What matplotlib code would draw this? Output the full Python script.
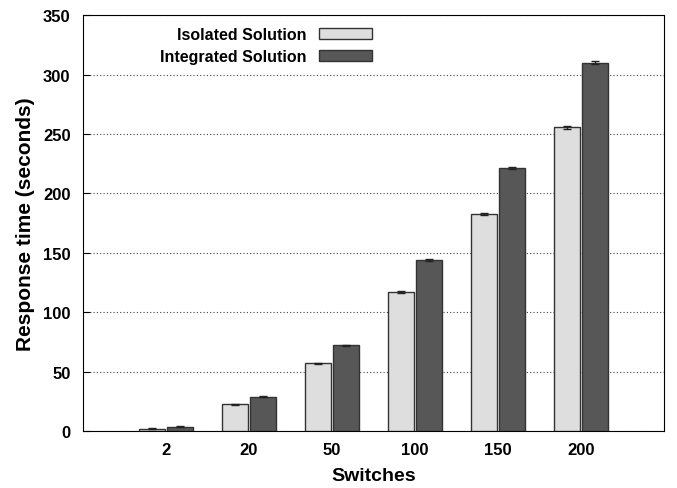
import matplotlib.pyplot as plt
import numpy as np

plt.rcParams['font.family'] = ['Liberation Sans', 'DejaVu Sans']
plt.rcParams['font.weight'] = 'bold'

# data
switches = ['2', '20', '50', '100', '150', '200']
isolated = [2.0, 22.5, 57.0, 117.0, 182.5, 255.5]
isolated_err = [0.3, 0.5, 0.5, 0.8, 0.8, 1.0]
integrated = [3.5, 29.0, 72.0, 144.0, 221.0, 310.0]
integrated_err = [0.3, 0.5, 0.5, 0.6, 0.8, 1.0]

x = np.arange(1, len(switches) + 1)
w = 0.31

fig = plt.figure(figsize=(6.77, 4.89), dpi=100)
ax = fig.add_axes([0.1226, 0.1166, 0.8584, 0.8504])

ax.bar(x - 0.17, isolated, w, color='#dedede', edgecolor='#333333', linewidth=1.0,
       yerr=isolated_err, error_kw=dict(ecolor='#222222', capsize=3, elinewidth=1),
       label='Isolated Solution', zorder=3)
ax.bar(x + 0.17, integrated, w, color='#575757', edgecolor='#333333', linewidth=1.0,
       yerr=integrated_err, error_kw=dict(ecolor='#222222', capsize=3, elinewidth=1),
       label='Integrated Solution', zorder=3)

ax.set_xlim(0, 7)
ax.set_ylim(0, 350)
ax.set_xticks(x)
ax.set_xticklabels(switches)
ax.set_yticks(range(0, 351, 50))
ax.tick_params(direction='in', labelsize=12, length=5)
ax.tick_params(axis='y', pad=9)
ax.tick_params(axis='x', length=0, pad=8)
ax.yaxis.grid(True, linestyle=(0, (1, 2)), color='#444444', linewidth=0.8)
ax.set_axisbelow(True)

ax.set_xlabel('Switches', fontsize=14, fontweight='bold', labelpad=7)
ax.set_ylabel('Response time (seconds)', fontsize=15, fontweight='bold', labelpad=6)

ax.legend(loc='upper right', bbox_to_anchor=(0.497, 0.972), frameon=False,
          markerfirst=False, fontsize=11.5, handlelength=3.3, handleheight=0.7,
          handletextpad=0.8, labelspacing=0.45, borderaxespad=0, borderpad=0)

fig.savefig('out.png', dpi=100)
